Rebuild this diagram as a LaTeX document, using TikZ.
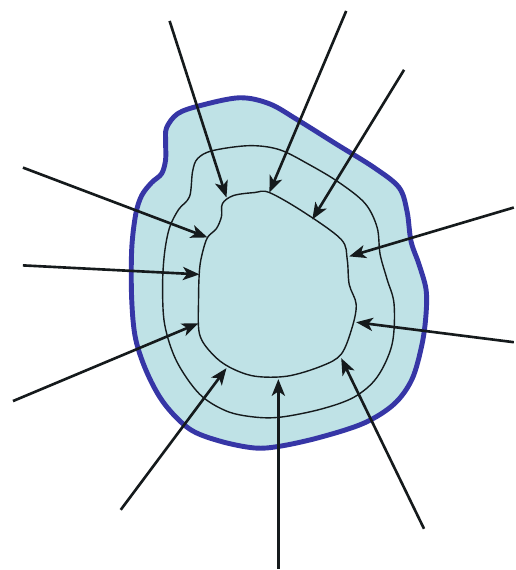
\documentclass[tikz,border=0pt]{standalone}
\usetikzlibrary{arrows.meta}
\definecolor{Pale}{HTML}{BFE2E6}
\definecolor{Navy}{HTML}{3636A6}
\definecolor{Coal}{HTML}{151A1C}

\begin{document}
\begin{tikzpicture}[x=0.02cm,y=-0.02cm,
    flux/.style={Coal,-{Stealth[length=9.5pt,width=7.5pt,inset=2.5pt]},line width=1.5pt},
    ring/.style={Coal,line width=0.8pt}]
  \fill[white] (0,0) rectangle (515,570);
  \filldraw[Navy,fill=Pale,line width=2.8pt] plot[smooth cycle,tension=0.55] coordinates {
    (167,128) (178,114) (200,106) (240,98) (270,104) (298,120) (338,145)
    (375,168) (400,188) (408,212) (412,242) (420,265) (427,290) (427,315)
    (423,345) (413,380) (395,405) (365,424) (322,438) (282,447) (255,449)
    (220,442) (190,430) (165,405) (148,375) (136,340) (132,300) (132,250)
    (136,215) (142,196) (152,183) (162,174) (166,160) (166,142)};
  \draw[ring] plot[smooth cycle,tension=0.55] coordinates {
    (193,172) (198,159) (213,151) (250,146) (280,150) (310,165) (340,183)
    (366,204) (378,228) (381,255) (388,280) (395,305) (393,345) (378,378)
    (355,398) (322,410) (282,418) (255,418) (227,412) (200,395) (177,362)
    (165,325) (163,285) (165,253) (170,228) (179,210) (190,197)};
  \draw[ring] plot[smooth cycle,tension=0.55] coordinates {
    (223,204) (234,196) (255,193) (270,193) (305,213) (342,240) (348,260)
    (350,285) (357,305) (353,328) (342,355) (322,367) (288,377) (255,377)
    (230,368) (213,355) (200,335) (199,300) (200,270) (203,253) (208,238)
    (217,229) (222,217)};
  \foreach \n/\a/\b/\c/\d in {1/170/21/227/198, 2/347/11/270/193,
      3/405/70/313/220, 4/515/208/350/257, 5/515/343/357/323,
      6/425/530/342/359, 7/279/570/279/380, 8/121/511/227/369,
      9/13/402/199/324, 10/23/266/200/275, 11/23/168/208/238} {
    \coordinate (t\n) at (\a,\b);
    \coordinate (h\n) at (\c,\d);
    \draw[flux] (t\n) -- (h\n);
  }
\end{tikzpicture}
\end{document}
